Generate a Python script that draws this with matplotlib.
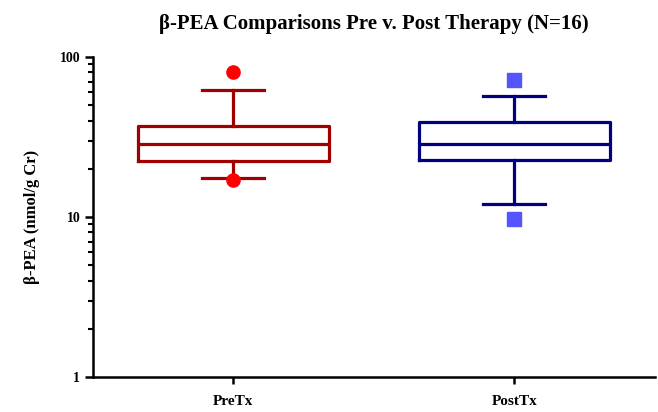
import numpy as np
import matplotlib
matplotlib.use("Agg")
import matplotlib.pyplot as plt

groups = ["PreTx", "PostTx"]
whislo = [17.4, 12.0]
q1 = [22.5, 22.6]
med = [28.4, 28.4]
q3 = [37.0, 39.2]
whishi = [61.7, 56.6]
fliers = [[80.3, 16.9], [71.9, 9.64]]

line_colors = ["#A00000", "#000080"]
flier_colors = ["#FF0000", "#5555FF"]
flier_markers = ["o", "s"]

plt.rcParams['font.family'] = ['Liberation Serif', 'DejaVu Serif']
plt.rcParams['font.weight'] = 'bold'

fig = plt.figure(figsize=(6.58, 4.12), dpi=100)
ax = fig.add_axes([0.141, 0.085, 0.854, 0.777])

for i, g in enumerate(groups):
    stats = [dict(label=g, whislo=whislo[i], q1=q1[i], med=med[i], q3=q3[i],
                  whishi=whishi[i], fliers=fliers[i])]
    c = line_colors[i]
    ax.bxp(stats, positions=[i + 1], widths=0.68, capwidths=0.22,
           boxprops=dict(color=c, linewidth=2.3),
           whiskerprops=dict(color=c, linewidth=2.3),
           capprops=dict(color=c, linewidth=2.3),
           medianprops=dict(color=c, linewidth=2.3),
           flierprops=dict(marker=flier_markers[i], markerfacecolor=flier_colors[i],
                           markeredgecolor=flier_colors[i], markersize=9.5))

ax.set_yscale('log')
ax.set_ylim(1, 100)
ax.set_xlim(0.5, 2.5)
ax.set_xticks([1, 2])
ax.set_xticklabels(groups, fontsize=11, fontweight='bold')
ax.set_yticks([1, 10, 100])
ax.set_yticklabels(["1", "10", "100"], fontsize=10, fontweight='bold')

for s in ['top', 'right']:
    ax.spines[s].set_visible(False)
for s in ['left', 'bottom']:
    ax.spines[s].set_linewidth(1.8)
ax.tick_params(axis='y', which='major', length=6, width=1.8, pad=3)
ax.tick_params(axis='y', which='minor', length=3.5, width=1.5)
ax.tick_params(axis='x', which='major', length=5, width=1.8, pad=8)

ax.set_ylabel("β-PEA (nmol/g Cr)", fontsize=12, fontweight='bold', labelpad=14)
ax.set_title("β-PEA Comparisons Pre v. Post Therapy (N=16)", fontsize=15,
             fontweight='bold', pad=20)

fig.savefig("out.png", dpi=100)
